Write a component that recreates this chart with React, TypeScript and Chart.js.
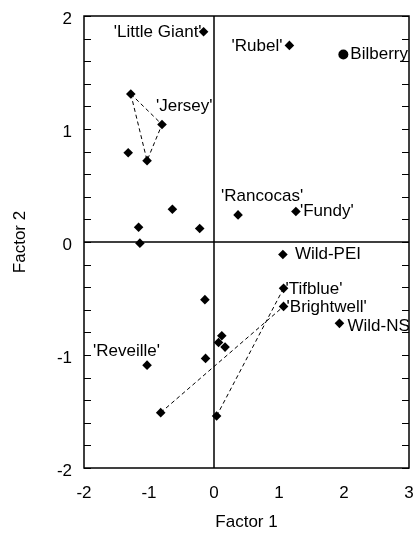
import React, { useEffect, useRef } from "react";
import { Chart, registerables } from "chart.js";

Chart.register(...registerables);

// ---- data ----
const cultivarLabels = [
  "'Little Giant'", "'Rubel'", "", "'Jersey'", "", "", "", "", "", "'Rancocas'", "'Fundy'",
  "Wild-PEI", "'Tifblue'", "'Brightwell'", "Wild-NS", "", "", "", "", "", "'Reveille'", "", "", "",
];
const factor1 = [
  -0.16, 1.16, -1.28, -0.8, -1.03, -1.32, -0.64, -1.16, -0.22, 0.37, 1.26,
  1.06, 1.07, 1.07, 1.93, -0.14, 0.12, 0.07, 0.17, -0.13, -1.03, -0.82, 0.04, -1.14,
];
const factor2 = [
  1.86, 1.74, 1.31, 1.04, 0.72, 0.79, 0.29, 0.13, 0.12, 0.24, 0.27,
  -0.11, -0.41, -0.57, -0.72, -0.51, -0.83, -0.89, -0.93, -1.03, -1.09, -1.51, -1.54, -0.01,
];
const bilberryLabel = ["Bilberry"];
const bilberryX = [1.99];
const bilberryY = [1.66];

// dashed connections (indices into the cultivar arrays)
const jerseyGroup = [2, 3, 4, 2];
const linkPairs = [
  [21, 13],
  [22, 12],
];

const xTicks = [-2, -1, 0, 1, 2, 3];
const yTickLabels = [-2, -1, 0, 1, 2];

// ---- styling of annotation text (offsets from point, align) ----
const cultivarLabelStyle: [number, number, CanvasTextAlign][] = [
  [-2, 0, "right"], [-7, 1, "right"], [0, 0, "left"], [-6, -18, "left"], [0, 0, "left"], [0, 0, "left"],
  [0, 0, "left"], [0, 0, "left"], [0, 0, "left"], [-17, -19, "left"], [4, 0, "left"],
  [12, 0, "left"], [2, 1, "left"], [3, 1, "left"], [8, 3, "left"], [0, 0, "left"], [0, 0, "left"],
  [0, 0, "left"], [0, 0, "left"], [0, 0, "left"], [-54, -14, "left"], [0, 0, "left"], [0, 0, "left"],
  [0, 0, "left"],
];
const bilberryLabelStyle: [number, number, CanvasTextAlign][] = [[7, 0, "left"]];

const FONT = "'Liberation Sans', Arial, Helvetica, sans-serif";
const FS = 17;

const toPoints = (xs: number[], ys: number[]) => xs.map((x, i) => ({ x, y: ys[i] }));

export default function App() {
  const ref = useRef<HTMLCanvasElement | null>(null);

  useEffect(() => {
    document.body.style.margin = "0";
    const canvas = ref.current;
    if (!canvas) return;

    const lineStyle = {
      type: "line" as const,
      showLine: true,
      borderColor: "#000",
      borderWidth: 1,
      borderDash: [4, 3],
      pointRadius: 0,
      fill: false,
      order: 2,
    };

    const datasets: any[] = [
      {
        ...lineStyle,
        data: jerseyGroup.map((i) => ({ x: factor1[i], y: factor2[i] })),
      },
      ...linkPairs.map((pair) => ({
        ...lineStyle,
        data: pair.map((i) => ({ x: factor1[i], y: factor2[i] })),
      })),
      {
        type: "scatter",
        data: toPoints(factor1, factor2),
        pointStyle: "rectRot",
        pointRadius: 4.8,
        backgroundColor: "#000",
        borderColor: "#000",
        borderWidth: 0,
        order: 1,
        labels: cultivarLabels,
        labelStyle: cultivarLabelStyle,
      },
      {
        type: "scatter",
        data: toPoints(bilberryX, bilberryY),
        pointStyle: "circle",
        pointRadius: 5,
        backgroundColor: "#000",
        borderColor: "#000",
        borderWidth: 0,
        order: 1,
        labels: bilberryLabel,
        labelStyle: bilberryLabelStyle,
      },
    ];

    const framePlugin = {
      id: "frame",
      beforeDatasetsDraw(chart: any) {
        const { ctx, chartArea: a, scales } = chart;
        ctx.save();
        ctx.strokeStyle = "#000";
        ctx.lineWidth = 1.5;
        const x0 = scales.x.getPixelForValue(0);
        const y0 = scales.y.getPixelForValue(0);
        ctx.beginPath();
        ctx.moveTo(x0, a.top);
        ctx.lineTo(x0, a.bottom);
        ctx.moveTo(a.left, y0);
        ctx.lineTo(a.right, y0);
        ctx.stroke();
        ctx.strokeRect(a.left, a.top, a.right - a.left, a.bottom - a.top);
        ctx.lineWidth = 1;
        ctx.beginPath();
        scales.y.ticks.forEach((t: any) => {
          const py = Math.round(scales.y.getPixelForValue(t.value)) + 0.5;
          ctx.moveTo(a.left, py);
          ctx.lineTo(a.left + 7, py);
          ctx.moveTo(a.right, py);
          ctx.lineTo(a.right - 7, py);
        });
        ctx.stroke();
        ctx.restore();
      },
      afterDatasetsDraw(chart: any) {
        const { ctx } = chart;
        ctx.save();
        ctx.fillStyle = "#000";
        ctx.font = `${FS}px ${FONT}`;
        ctx.textBaseline = "middle";
        chart.data.datasets.forEach((ds: any, di: number) => {
          if (!ds.labels) return;
          const meta = chart.getDatasetMeta(di);
          meta.data.forEach((el: any, i: number) => {
            const text = ds.labels[i];
            if (!text) return;
            const [dx, dy, align] = ds.labelStyle[i];
            ctx.textAlign = align;
            ctx.fillText(text, el.x + dx, el.y + dy);
          });
        });
        ctx.restore();
      },
    };

    const chart = new Chart(canvas, {
      type: "scatter",
      data: { datasets },
      options: {
        animation: false,
        responsive: false,
        events: [],
        layout: { padding: { top: 16, right: 4, left: 0, bottom: 0 } },
        plugins: { legend: { display: false }, tooltip: { enabled: false } },
        scales: {
          x: {
            type: "linear",
            min: -2,
            max: 3,
            afterBuildTicks: (s: any) => {
              s.ticks = xTicks.map((v) => ({ value: v }));
            },
            ticks: {
              color: "#000",
              font: { size: FS, family: FONT },
              padding: 15,
              maxRotation: 0,
              callback: (v: any) => String(v),
            },
            grid: { display: false, drawTicks: false },
            border: { display: false },
            title: {
              display: true,
              text: "Factor 1",
              color: "#000",
              font: { size: FS, family: FONT },
              padding: { top: 0, bottom: 0 },
            },
            afterFit: (s: any) => {
              s.height = 65;
              s.paddingLeft = 0;
              s.paddingRight = 0;
            },
          },
          y: {
            type: "linear",
            min: -2,
            max: 2,
            ticks: {
              stepSize: 0.2,
              autoSkip: false,
              color: "#000",
              font: { size: FS, family: FONT },
              padding: 12,
              labelOffset: 3,
              callback: (v: any) => {
                const n = Number(v);
                const r = Math.round(n);
                return Math.abs(n - r) < 1e-6 && yTickLabels.includes(r) ? String(r) : "";
              },
            },
            grid: { display: false, drawTicks: false },
            border: { display: false },
            title: {
              display: true,
              text: "Factor 2",
              color: "#000",
              font: { size: FS, family: FONT },
              padding: { top: 10, bottom: 0 },
            },
            afterFit: (s: any) => {
              s.width = 84;
              s.paddingTop = 0;
              s.paddingBottom = 0;
            },
          },
        },
      },
      plugins: [framePlugin],
    });

    return () => chart.destroy();
  }, []);

  return <canvas ref={ref} width={414} height={533} style={{ display: "block" }} />;
}
